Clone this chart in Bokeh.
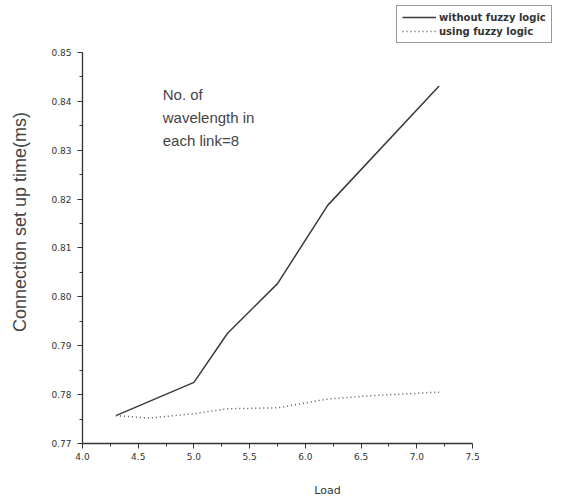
from bokeh.plotting import figure
from bokeh.models import Range1d, Legend, LegendItem, Label, FixedTicker
from bokeh.embed import file_html
from bokeh.resources import INLINE

# Data
load_without = [4.3, 5.0, 5.3, 5.75, 6.2, 7.2]
time_without = [0.7757, 0.7825, 0.7925, 0.8027, 0.8187, 0.8431]
load_with = [4.3, 4.6, 5.0, 5.3, 5.75, 6.2, 6.6, 7.2]
time_with = [0.7757, 0.7752, 0.7761, 0.7771, 0.7773, 0.7791, 0.7798, 0.7805]
x_ticks = [4.0, 4.5, 5.0, 5.5, 6.0, 6.5, 7.0, 7.5]
y_ticks = [0.77, 0.78, 0.79, 0.80, 0.81, 0.82, 0.83, 0.84, 0.85]
x_axis_bounds = (4.0, 7.5)
y_axis_bounds = (0.77, 0.85)
series_names = ["without fuzzy logic", "using fuzzy logic"]
note_text = "No. of\nwavelength in\neach link=8"

# Frame covers the legend area too; the axes are bounded to the data box.
p = figure(width=572, height=500, output_backend="svg", toolbar_location=None,
           x_range=Range1d(4.0, 8.397), y_range=Range1d(0.77, 0.8606),
           min_border_left=82, min_border_right=0, min_border_top=0,
           min_border_bottom=57)
p.outline_line_color = None
p.xgrid.visible = False
p.ygrid.visible = False
p.background_fill_color = "white"
p.border_fill_color = "white"

r1 = p.line(load_without, time_without, line_color="#3a3a3a", line_width=1.5)
r2 = p.line(load_with, time_with, line_color="#555555", line_width=1.5, line_dash="1 3")

for ax in (p.xaxis[0], p.yaxis[0]):
    ax.axis_line_color = "#333333"
    ax.axis_line_width = 1.3
    ax.major_tick_line_color = "#333333"
    ax.minor_tick_line_color = "#333333"
    ax.major_tick_in = 0
    ax.major_tick_out = 5
    ax.minor_tick_in = 0
    ax.minor_tick_out = 3
    ax.major_label_text_font = "DejaVu Sans"
    ax.major_label_text_font_size = "9px"
    ax.major_label_text_color = "#333333"

p.xaxis.bounds = x_axis_bounds
p.yaxis.bounds = y_axis_bounds
p.xaxis.ticker = FixedTicker(ticks=x_ticks, minor_ticks=[4.25 + 0.5 * i for i in range(7)])
p.yaxis.ticker = FixedTicker(ticks=y_ticks, minor_ticks=[0.775 + 0.01 * i for i in range(8)])
p.xaxis.major_label_overrides = {t: f"{t:.1f}" for t in x_ticks}
p.yaxis.major_label_overrides = {t: f"{t:.2f}" for t in y_ticks}
p.xaxis.major_label_standoff = 4
p.yaxis.major_label_standoff = 6

p.xaxis.axis_label = "Load"
p.xaxis.axis_label_text_font = "DejaVu Sans"
p.xaxis.axis_label_text_font_style = "normal"
p.xaxis.axis_label_text_font_size = "11px"
p.xaxis.axis_label_text_color = "#333333"
p.xaxis.axis_label_standoff = 21

p.yaxis.axis_label = "Connection set up time(ms)"
p.yaxis.axis_label_text_font = "Liberation Sans"
p.yaxis.axis_label_text_font_style = "normal"
p.yaxis.axis_label_text_font_size = "18px"
p.yaxis.axis_label_text_color = "#444444"
p.yaxis.axis_label_standoff = 18

note = Label(x=4.72, y=0.8431, text=note_text, text_font="Liberation Sans",
             text_font_size="15px", text_color="#444444", text_baseline="top",
             text_line_height=1.35)
p.add_layout(note)

legend = Legend(items=[LegendItem(label=series_names[0], renderers=[r1]),
                       LegendItem(label=series_names[1], renderers=[r2])],
                location=(314, 400), orientation="vertical",
                border_line_color="#333333", border_line_width=1.5,
                label_text_font="DejaVu Sans", label_text_font_style="bold",
                label_text_font_size="10px", label_text_color="#333333",
                glyph_width=34, glyph_height=12, label_standoff=3,
                padding=5, spacing=2, margin=0, label_height=12)
p.add_layout(legend, "center")

open("out.html", "w").write(file_html(p, INLINE))
